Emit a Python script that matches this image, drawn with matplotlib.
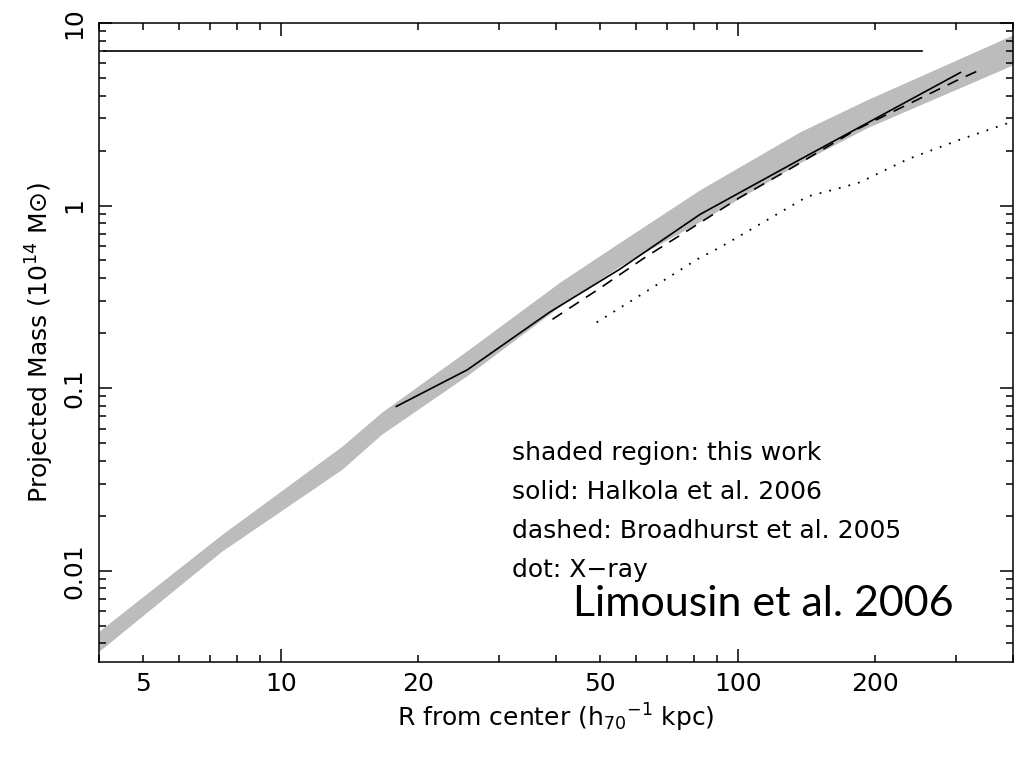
import matplotlib.pyplot as plt
import numpy as np
from matplotlib.ticker import FixedLocator, FuncFormatter, NullFormatter

# shaded region: this work (radius in kpc, lower/upper projected mass in 1e14 Msun)
band_r = [4.0, 7.43, 13.6, 16.6, 25.8, 40.7, 55.1, 82.6, 137, 192, 401]
band_lo = [0.00362, 0.0128, 0.0359, 0.0558, 0.119, 0.280, 0.464, 0.817, 1.72, 2.67, 5.91]
band_hi = [0.00466, 0.0158, 0.048, 0.0736, 0.163, 0.379, 0.627, 1.22, 2.54, 3.80, 8.63]

# solid: Halkola et al. 2006
halkola_r = [17.9, 25.6, 38.7, 55.1, 82.6, 137, 307]
halkola_m = [0.0794, 0.126, 0.260, 0.447, 0.893, 1.79, 5.35]

# dashed: Broadhurst et al. 2005
broad_r = [39.3, 49.8, 63.1, 79.6, 101, 128, 182, 235, 304, 340]
broad_m = [0.238, 0.351, 0.526, 0.758, 1.106, 1.55, 2.61, 3.57, 4.89, 5.55]

# dot: X-ray
xray_r = [49.1, 64.1, 81.3, 92.2, 142, 170, 185, 235, 307, 399]
xray_m = [0.229, 0.347, 0.506, 0.597, 1.12, 1.26, 1.34, 1.79, 2.30, 2.88]

# horizontal reference line
hline_r = [4.1, 253]
hline_m = [7.0, 7.0]

legend_lines = [
    "shaded region: this work",
    "solid: Halkola et al. 2006",
    "dashed: Broadhurst et al. 2005",
    "dot: X\u2212ray",
]

fig = plt.figure(figsize=(10.17, 7.64), dpi=100)
ax = fig.add_axes([0.0973, 0.1335, 0.8987, 0.8365])

ax.fill_between(band_r, band_lo, band_hi, color="#bcbcbc", linewidth=0)
ax.plot(halkola_r, halkola_m, color="black", lw=1.2)
ax.plot(broad_r, broad_m, color="black", lw=1.2, linestyle=(0, (7, 5)))
ax.plot(xray_r, xray_m, color="black", lw=1.3, linestyle=(0, (1, 4.5)))
ax.plot(hline_r, hline_m, color="black", lw=1.2)

ax.set_xscale("log")
ax.set_yscale("log")
ax.set_xlim(4, 400)
ax.set_ylim(10 ** -2.5, 10)

# x ticks: long ticks at decades, labels also on 5, 20, 50, 200
ax.xaxis.set_major_locator(FixedLocator([10, 100]))
ax.xaxis.set_major_formatter(FuncFormatter(lambda v, p: f"{v:g}"))
x_minor = [4, 5, 6, 7, 8, 9, 20, 30, 40, 50, 60, 70, 80, 90, 200, 300, 400]
ax.xaxis.set_minor_locator(FixedLocator(x_minor))
ax.xaxis.set_minor_formatter(
    FuncFormatter(lambda v, p: f"{v:g}" if v in (5, 20, 50, 200) else "")
)

ax.set_yticks([0.01, 0.1, 1, 10], ["0.01", "0.1", "1", "10"])
y_minor = [k * 10.0 ** e for e in (-3, -2, -1, 0) for k in range(2, 10)]
ax.yaxis.set_minor_locator(FixedLocator(y_minor))
ax.yaxis.set_minor_formatter(NullFormatter())

ax.tick_params(which="both", direction="in", top=True, right=True, width=1.1,
               labelsize=18, colors="black")
ax.tick_params(which="major", length=9.5)
ax.tick_params(which="minor", length=5)
ax.tick_params(axis="x", which="both", pad=7)
ax.tick_params(axis="y", which="both", pad=9, labelrotation=90)
for lab in ax.get_yticklabels():
    lab.set_va("center")

for sp in ax.spines.values():
    sp.set_linewidth(1.1)

ax.set_xlabel(r"R from center (h$_{70}$$^{-1}$ kpc)", fontsize=18)
ax.set_ylabel(r"Projected Mass (10$^{14}$ M$\odot$)", fontsize=18)
ax.xaxis.set_label_coords(0.5, -0.0876)
ax.yaxis.set_label_coords(-0.0646, 0.5)
ax.xaxis.label.set_va("center")
ax.yaxis.label.set_va("center")

for i, line in enumerate(legend_lines):
    fig.text(512 / 1017, 1 - (453 + 39 * i) / 764, line, fontsize=18,
             va="center", ha="left")

fig.text(573 / 1017, 1 - 604 / 764, "Limousin et al. 2006", fontsize=31,
         family="Lato", va="center", ha="left")

fig.savefig("out.png", dpi=100)
